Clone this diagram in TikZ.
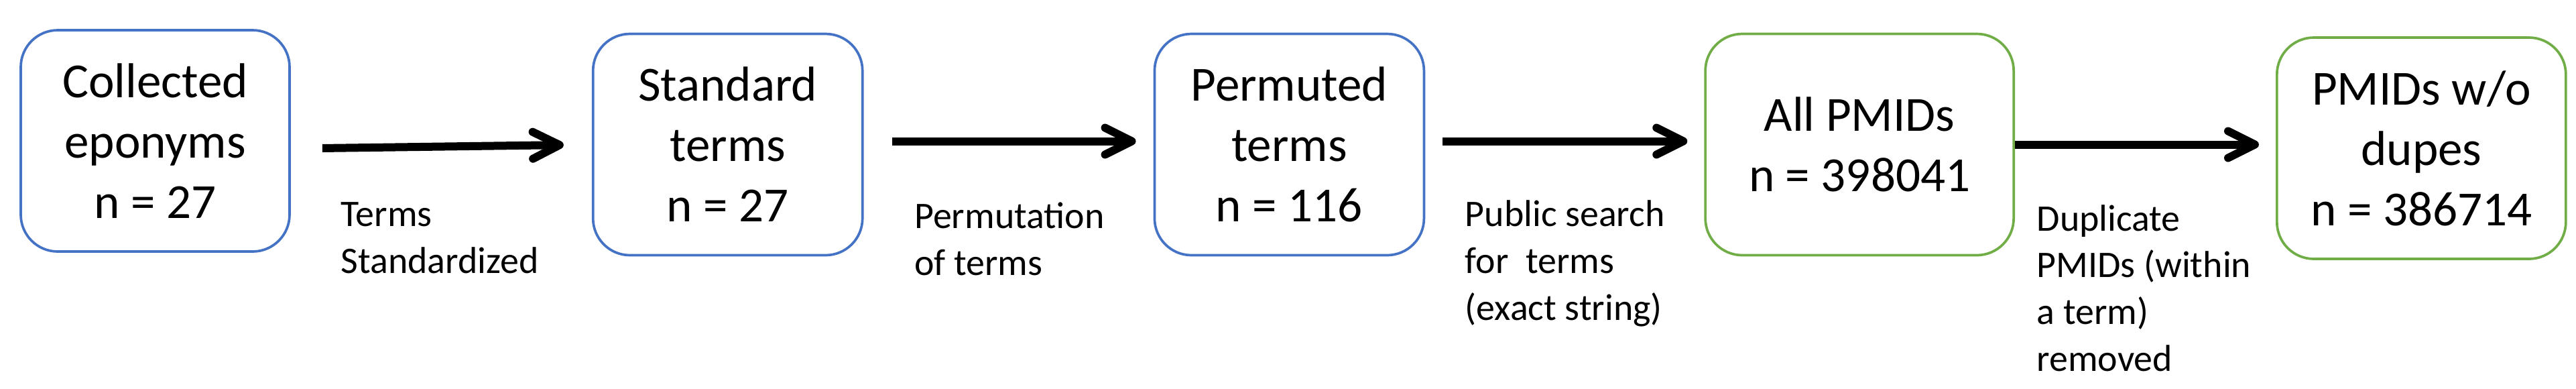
\documentclass[tikz,border=0pt]{standalone}
\usepackage{fontspec}
\setmainfont{Carlito}
\usepackage{tikz}
\usetikzlibrary{positioning,arrows.meta}
\definecolor{stepblue}{HTML}{4472C4}
\definecolor{stepgreen}{HTML}{70AD47}

\begin{document}
\begin{tikzpicture}[
    box/.style={rectangle,rounded corners=0.55cm,line width=0.037cm,
                minimum height=3.3cm,align=center,inner sep=0pt,
                font=\fontsize{20.8}{25.6}\selectfont},
    lbl/.style={align=left,inner sep=0pt,font=\fontsize{15.9}{19.9}\selectfont},
    arr/.style={-{Straight Barb[round,length=0.4cm,width=0.4cm]},line width=0.12cm}]
  \useasboundingbox (0,0) rectangle (38.43,-5.79);
  % boxes
  \node[box,draw=stepblue,minimum width=4.01cm] (clct) at (2.315,-2.10)
    {Collected\\eponyms\\n = 27};
  \node[box,draw=stepblue,minimum width=4.02cm,right=4.49cm of clct,yshift=-0.055cm] (stdt)
    {Standard\\terms\\n = 27};
  \node[box,draw=stepblue,minimum width=4.02cm,right=4.32cm of stdt] (perm)
    {Permuted\\terms\\n = 116};
  \node[box,draw=stepgreen,minimum width=4.6cm,right=4.16cm of perm] (allp)
    {All PMIDs\\n = 398041};
  \node[box,draw=stepgreen,minimum width=4.31cm,right=3.89cm of allp,yshift=-0.055cm] (nodp)
    {PMIDs w/o\\dupes\\n = 386714};
  % arrows
  \draw[arr,shorten <=0.47cm,shorten >=0.42cm] ([yshift=-0.116cm]clct.east) -- (stdt.west);
  \draw[arr,shorten <=0.42cm,shorten >=0.26cm] ([yshift=0.05cm]stdt.east) -- ([yshift=0.05cm]perm.west);
  \draw[arr,shorten <=0.26cm,shorten >=0.25cm] ([yshift=0.05cm]perm.east) -- ([yshift=0.05cm]allp.west);
  \draw[arr,shorten >=0.25cm] (allp.east) -- ([yshift=0.055cm]nodp.west);
  % labels
  \node[lbl,below right=0.91cm and 0.74cm of clct.east] (lstd) {Terms\\Standardized};
  \node[lbl,below right=0.855cm and 0.75cm of stdt.east] (lprm) {Permutation\\of terms};
  \node[lbl,below right=0.825cm and 0.59cm of perm.east] (lsrc) {Public search\\for\ \ terms\\(exact string)};
  \node[lbl,below right=0.89cm and 0.32cm of allp.east] (ldup) {Duplicate\\PMIDs (within\\a term)\\removed};
\end{tikzpicture}
\end{document}
